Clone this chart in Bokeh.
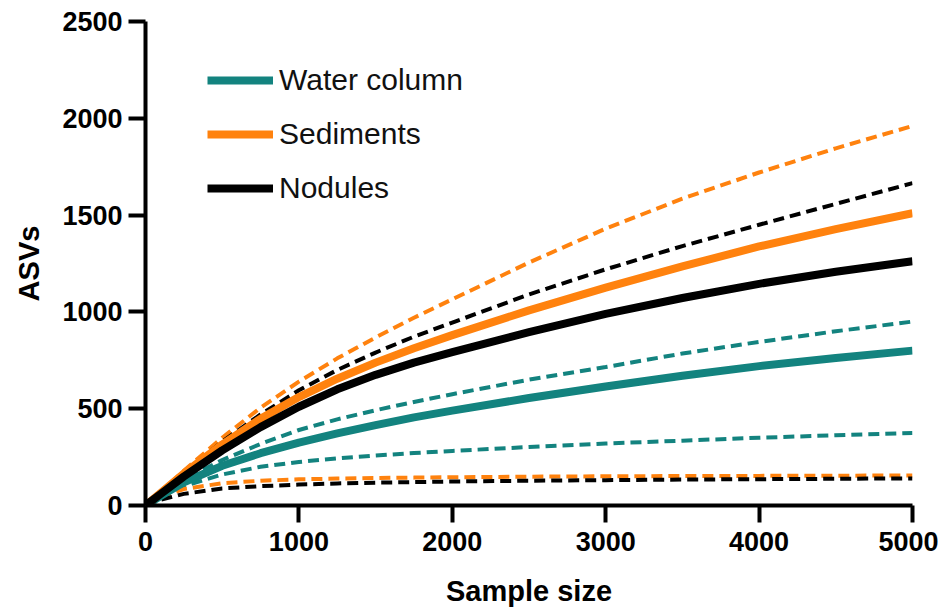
from bokeh.plotting import figure
from bokeh.models import Legend, LegendItem, Range1d, FixedTicker
from bokeh.embed import file_html
from bokeh.resources import INLINE

# ---- data ----
sample_size = [0, 100, 250, 500, 750, 1000, 1250, 1500, 1750, 2000, 2500, 3000, 3500, 4000, 4500, 5000]

water_mean  = [0, 50, 120, 205, 270, 325, 372, 415, 455, 490, 555, 615, 670, 720, 762, 800]
water_upper = [0, 55, 135, 235, 318, 390, 445, 492, 535, 575, 650, 715, 785, 845, 900, 950]
water_lower = [0, 45, 100, 160, 200, 225, 243, 258, 271, 282, 302, 320, 335, 350, 363, 375]

sed_mean  = [0, 65, 165, 315, 448, 560, 655, 738, 812, 880, 1008, 1125, 1235, 1338, 1428, 1510]
sed_upper = [0, 70, 180, 350, 505, 640, 760, 868, 970, 1065, 1255, 1430, 1585, 1720, 1845, 1960]
sed_lower = [0, 45, 85, 115, 128, 135, 139, 142, 144, 146, 149, 151, 152, 153, 154, 155]

nod_mean  = [0, 60, 150, 285, 405, 510, 600, 675, 738, 792, 895, 990, 1072, 1145, 1207, 1262]
nod_upper = [0, 65, 165, 330, 470, 595, 700, 790, 872, 945, 1090, 1220, 1340, 1450, 1558, 1665]
nod_lower = [0, 30, 60, 88, 100, 108, 114, 118, 121, 124, 128, 131, 134, 136, 138, 140]

series_names = ["Water column", "Sediments", "Nodules"]
x_ticks = [0, 1000, 2000, 3000, 4000, 5000]
y_ticks = [0, 500, 1000, 1500, 2000, 2500]

TEAL = "#13837f"
ORANGE = "#ff820e"
BLACK = "#000000"

p = figure(width=938, height=609, output_backend="svg", toolbar_location=None,
           x_range=Range1d(0, 5000), y_range=Range1d(0, 2500),
           min_border_left=145, min_border_right=26, min_border_top=21, min_border_bottom=104)
p.outline_line_color = None
p.xgrid.visible = False
p.ygrid.visible = False
p.background_fill_color = "white"
p.border_fill_color = "white"

DASH = "11 6"
groups = [
    (water_mean, water_upper, water_lower, TEAL),
    (sed_mean, sed_upper, sed_lower, ORANGE),
    (nod_mean, nod_upper, nod_lower, BLACK),
]
# dashed bounds first
for mean, up, lo, col in groups:
    p.line(sample_size, up, line_color=col, line_width=4, line_dash=DASH)
    p.line(sample_size, lo, line_color=col, line_width=4, line_dash=DASH)
mean_rs = []
for mean, up, lo, col in groups:
    r = p.line(sample_size, mean, line_color=col, line_width=8, line_join="round")
    mean_rs.append(r)

legend = Legend(items=[LegendItem(label=n, renderers=[r]) for n, r in zip(series_names, mean_rs)],
                location=(62, 300))
legend.background_fill_alpha = 0
legend.border_line_color = None
legend.label_text_font = "Liberation Sans"
legend.label_text_font_size = "30px"
legend.label_text_color = "#111111"
legend.glyph_width = 66
legend.glyph_height = 30
legend.label_height = 30
legend.spacing = 20
legend.padding = 0
legend.margin = 0
legend.label_standoff = 6
p.add_layout(legend)

for ax in (p.xaxis[0], p.yaxis[0]):
    ax.axis_line_width = 4
    ax.axis_line_color = "black"
    ax.major_tick_line_width = 4
    ax.major_tick_line_color = "black"
    ax.major_tick_out = 17
    ax.major_tick_in = 0
    ax.minor_tick_line_color = None
    ax.major_label_text_font = "Liberation Sans"
    ax.major_label_text_font_style = "bold"
    ax.major_label_text_font_size = "27px"
    ax.major_label_text_color = "black"
    ax.axis_label_text_font = "Liberation Sans"
    ax.axis_label_text_font_style = "bold"
    ax.axis_label_text_font_size = "29px"
    ax.axis_label_text_color = "black"

p.xaxis[0].ticker = FixedTicker(ticks=x_ticks)
p.yaxis[0].ticker = FixedTicker(ticks=y_ticks)
p.xaxis[0].major_label_standoff = 9
p.yaxis[0].major_label_standoff = 6
p.xaxis[0].axis_label = "Sample size"
p.yaxis[0].axis_label = "ASVs"
p.xaxis[0].axis_label_standoff = 21
p.yaxis[0].axis_label_standoff = 14

open("out.html", "w").write(file_html(p, INLINE))
